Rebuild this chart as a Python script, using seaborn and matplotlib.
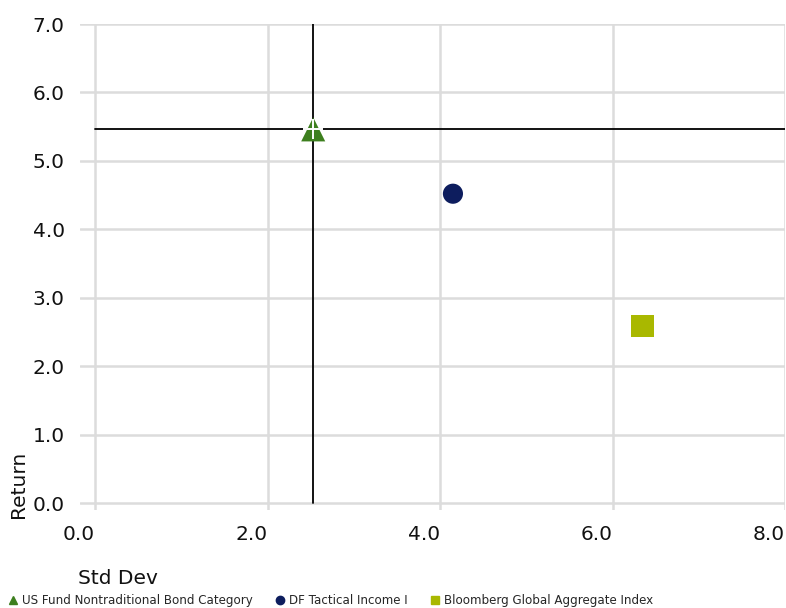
import matplotlib
matplotlib.use("Agg")
import matplotlib.pyplot as plt
import seaborn as sns
import pandas as pd
from matplotlib.lines import Line2D

names = ["US Fund Nontraditional Bond Category", "DF Tactical Income I", "Bloomberg Global Aggregate Index"]
std_dev = [2.53, 4.15, 6.35]
returns = [5.46, 4.52, 2.59]
colors = ["#3d7f1e", "#0d1d5e", "#a9b800"]
markers = ["^", "o", "s"]
sizes = [300, 210, 260]
x_ticks = [0.0, 2.0, 4.0, 6.0, 8.0]
y_ticks = [0.0, 1.0, 2.0, 3.0, 4.0, 5.0, 6.0, 7.0]

df = pd.DataFrame({"name": names, "std": std_dev, "ret": returns})

sns.set_theme(style="white")
plt.rcParams["font.family"] = ["DejaVu Sans"]

fig = plt.figure(figsize=(7.86, 6.08), dpi=100)
ax = fig.add_axes([80/786, (608-510)/608, 705/786, (510-24)/608])

ax.set_xlim(-0.174, 8)
ax.set_ylim(-0.102, 7)
ax.set_xticks(x_ticks)
ax.set_yticks(y_ticks)
ax.set_xticklabels([f"{v:.1f}" for v in x_ticks], ha="right")
ax.set_yticklabels([f"{v:.1f}" for v in y_ticks])
ax.tick_params(axis="both", length=0, labelsize=14.5, colors="#111111")
ax.tick_params(axis="x", pad=11)
ax.tick_params(axis="y", pad=11)
ax.grid(True, color="#dcdcdc", linewidth=1.8)
ax.set_axisbelow(True)
for s in ax.spines.values():
    s.set_visible(False)

# crosshair at category
ax.plot([std_dev[0], std_dev[0]], [0, 7], color="black", lw=1.3, zorder=2)
ax.plot([0, 8], [returns[0], returns[0]], color="black", lw=1.3, zorder=2)

sns.scatterplot(data=df, x="std", y="ret", hue="name", style="name",
                palette=dict(zip(names, colors)), markers=dict(zip(names, markers)),
                size="name", sizes=dict(zip(names, sizes)),
                linewidth=0, legend=False, ax=ax, zorder=3)
ax.scatter([std_dev[0]], [returns[0]], marker="+", s=190, color="white", linewidths=1.4, zorder=4)

ax.set_xlabel("")
ax.set_ylabel("")
fig.text(78/786, 1 - 578/608, "Std Dev", fontsize=14.5, color="#111111", ha="left", va="center")
fig.text(18/786, 1 - 518/608, "Return", fontsize=14.5, color="#111111", rotation=90, ha="center", va="bottom")

handles = [Line2D([], [], marker=m, color=c, linestyle="none", markersize=6) for m, c in zip(markers, colors)]
fig.legend(handles, names, loc="lower left", bbox_to_anchor=(0.0, -0.01), ncol=3, frameon=False,
           fontsize=8.6, handletextpad=0.2, columnspacing=1.85, handlelength=1.0, borderaxespad=0.2)

fig.savefig("out.png", dpi=100)
